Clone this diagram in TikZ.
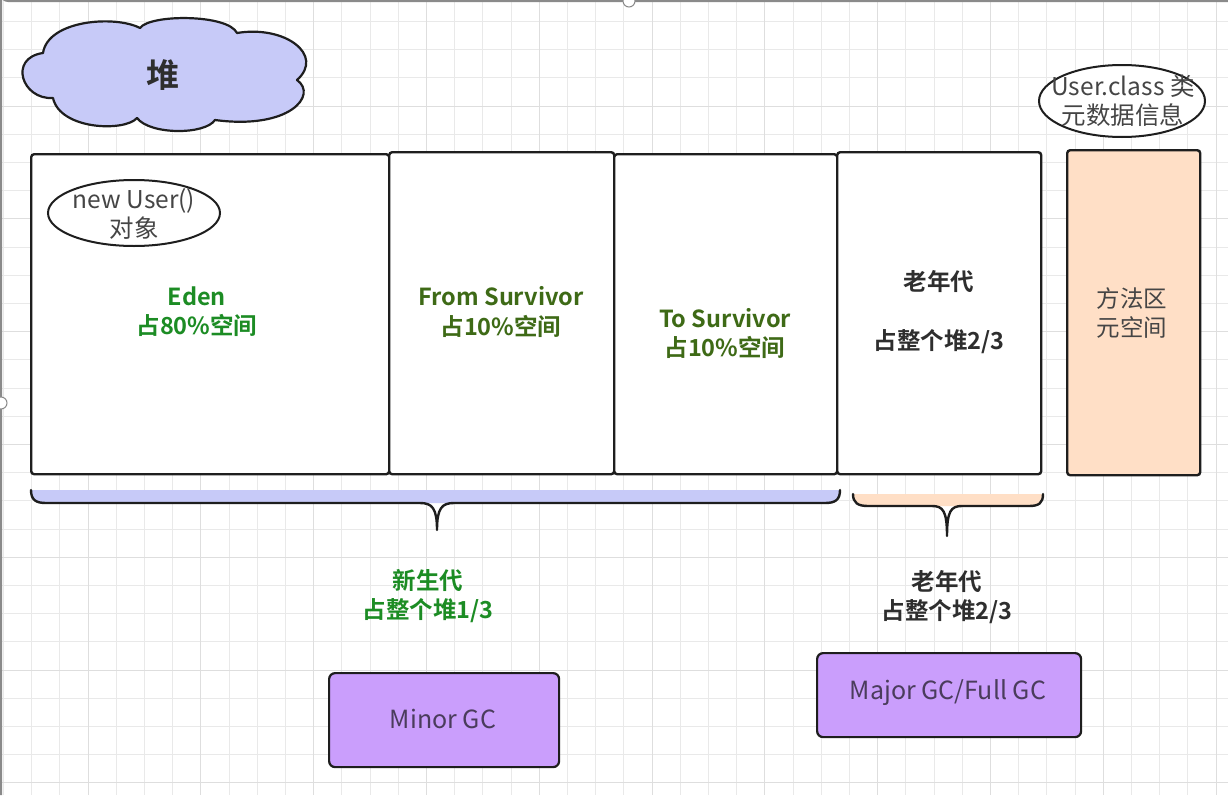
\documentclass[tikz,border=0pt]{standalone}
\usepackage{fontspec}
\setmainfont{Noto Sans CJK SC}[BoldFont={Noto Sans CJK SC Bold}]
\usetikzlibrary{shapes.geometric}
\definecolor{gridminor}{HTML}{E9E9E9}
\definecolor{gridmajor}{HTML}{DEDEDE}
\definecolor{edge}{HTML}{1E1E1E}
\definecolor{cloudfill}{HTML}{C7CAF8}
\definecolor{peach}{HTML}{FFDFC6}
\definecolor{gcfill}{HTML}{CA9EFC}
\definecolor{edengreen}{HTML}{1C8C24}
\definecolor{olive}{HTML}{3E6A16}
\definecolor{darktext}{HTML}{2E2E2E}
\definecolor{greytext}{HTML}{454545}
\definecolor{gctext}{HTML}{4A3C5C}
\definecolor{framegrey}{HTML}{8A8A8A}
\tikzset{
  area/.style={draw=edge, line width=2.4pt, rounded corners=3pt, fill=white, anchor=north west, inner sep=0pt},
  gcbox/.style={draw=edge, line width=2.2pt, rounded corners=6pt, fill=gcfill, anchor=north west, inner sep=0pt},
  oval/.style={draw=edge, line width=2pt, ellipse, fill=white, inner sep=0pt},
  brace/.style={draw=edge, line width=2.4pt, line cap=round, line join=round},
  labelfont/.style={font=\bfseries\fontsize{23.5}{29}\selectfont},
  greentxt/.style={text=edengreen, labelfont, align=center},
  olivetxt/.style={text=olive, labelfont, align=center},
  darktxt/.style={text=darktext, labelfont, align=center},
  greytxt/.style={text=greytext, font=\fontsize{23.5}{29}\selectfont, align=center},
  ovaltxt/.style={text=greytext, font=\fontsize{24.5}{29}\selectfont, align=center},
  handle/.style={circle, draw=framegrey, fill=white, line width=1pt, minimum size=12pt, inner sep=0pt},
}
\begin{document}
\begin{tikzpicture}[x=1pt,y=-1pt]
\useasboundingbox (0,0) rectangle (1228,795);
\fill[white] (0,0) rectangle (1228,795);
% background grid
\foreach \i in {-3,...,40} \draw[gridminor, line width=1pt] ({88+28.2*\i},0) -- ++(0,795);
\foreach \i in {-4,...,25} \draw[gridminor, line width=1pt] (0,{106+28.2*\i}) -- ++(1228,0);
\foreach \i in {-1,...,10} \draw[gridmajor, line width=1pt] ({88+112.8*\i},0) -- ++(0,795);
\foreach \i in {-1,...,6} \draw[gridmajor, line width=1pt] (0,{106+112.8*\i}) -- ++(1228,0);
% canvas frame with handles
\draw[framegrey, line width=2pt] (1228,1) -- (8,1) arc[start angle=90, end angle=180, radius=7] -- (1,795);
\node[handle] (htop) at (629,1) {};
\node[handle] (hleft) at (1,403) {};

% heap cloud
\draw[edge, line width=2.2pt, fill=cloudfill, line join=round]
  (53,98) .. controls (22,100) and (8,58) .. (43,53)
  .. controls (48,20) and (115,15) .. (140,28)
  .. controls (150,14) and (228,14) .. (237,33)
  .. controls (285,25) and (325,55) .. (297,80)
  .. controls (318,95) and (290,130) .. (215,120)
  .. controls (205,135) and (150,135) .. (137,118)
  .. controls (125,132) and (60,130) .. (53,98) -- cycle;
\node[text=darktext, font=\bfseries\fontsize{33}{36}\selectfont] (heaplbl) at (163,75) {堆};

% heap areas
\node[area, minimum width=358pt, minimum height=320pt] (eden) at (30,153) {};
\node[area, minimum width=225pt, minimum height=322pt] (from) at (388,151) {};
\node[area, minimum width=223pt, minimum height=320pt] (to) at (613,153) {};
\node[area, minimum width=204pt, minimum height=322pt] (old) at (836,151) {};
\node[area, fill=peach, minimum width=133pt, minimum height=325pt] (meta) at (1066,149) {};

% object and class-metadata ovals
\node[oval, minimum width=172pt, minimum height=66pt] (obj) at (134,213) {};
\node[ovaltxt] (objlbl) at (134,214) {new User()\\对象};
\node[oval, minimum width=166pt, minimum height=72pt] (cls) at (1122,101) {};
\node[ovaltxt] (clslbl) at (1123,101) {User.class 类\\元数据信息};

% area labels
\node[greentxt] (edenlbl) at (197,312) {Eden\\占80\%空间};
\node[olivetxt] (fromlbl) at (501,312) {From Survivor\\占10\%空间};
\node[olivetxt] (tolbl) at (725,333) {To Survivor\\占10\%空间};
\node[darktxt] (oldtop) at (939,282) {老年代};
\node[darktxt] (oldbot) at (939,342) {占整个堆2/3};
\node[greytxt] (metalbl) at (1132,313) {方法区\\元空间};

% young generation brace
\fill[cloudfill] (31,490) .. controls (31,500) and (36,503) .. (46,503) -- (825,503)
   .. controls (835,503) and (840,500) .. (840,490) -- cycle;
\coordinate (ytip) at (437,530);
\draw[brace] (31,490) .. controls (31,500) and (36,503) .. (46,503) -- (420,503)
   .. controls (432,503) and (437,508) .. (ytip)
   (ytip) .. controls (437,508) and (442,503) .. (454,503) -- (825,503)
   .. controls (835,503) and (840,500) .. (840,490);
% old generation brace
\fill[peach] (853,494) .. controls (853,503) and (858,506) .. (868,506) -- (1029,506)
   .. controls (1039,506) and (1043,503) .. (1043,494) -- cycle;
\coordinate (otip) at (947,536);
\draw[brace] (853,494) .. controls (853,503) and (858,506) .. (868,506) -- (932,506)
   .. controls (943,506) and (947,511) .. (otip)
   (otip) .. controls (947,511) and (951,506) .. (962,506) -- (1029,506)
   .. controls (1039,506) and (1043,503) .. (1043,494);

% generation captions
\node[greentxt] (younglbl) at (428,596) {新生代\\占整个堆1/3};
\node[darktxt] (oldlbl) at (947,597) {老年代\\占整个堆2/3};

% collectors
\node[gcbox, minimum width=230pt, minimum height=94pt] (minor) at (328,672) {};
\node[text=gctext, font=\fontsize{25}{28}\selectfont] (minorlbl) at (443,719) {Minor GC};
\node[gcbox, minimum width=264pt, minimum height=84pt] (major) at (816,652) {};
\node[text=gctext, font=\fontsize{25}{28}\selectfont] (majorlbl) at (948,693) {Major GC/Full GC};
\end{tikzpicture}
\end{document}
